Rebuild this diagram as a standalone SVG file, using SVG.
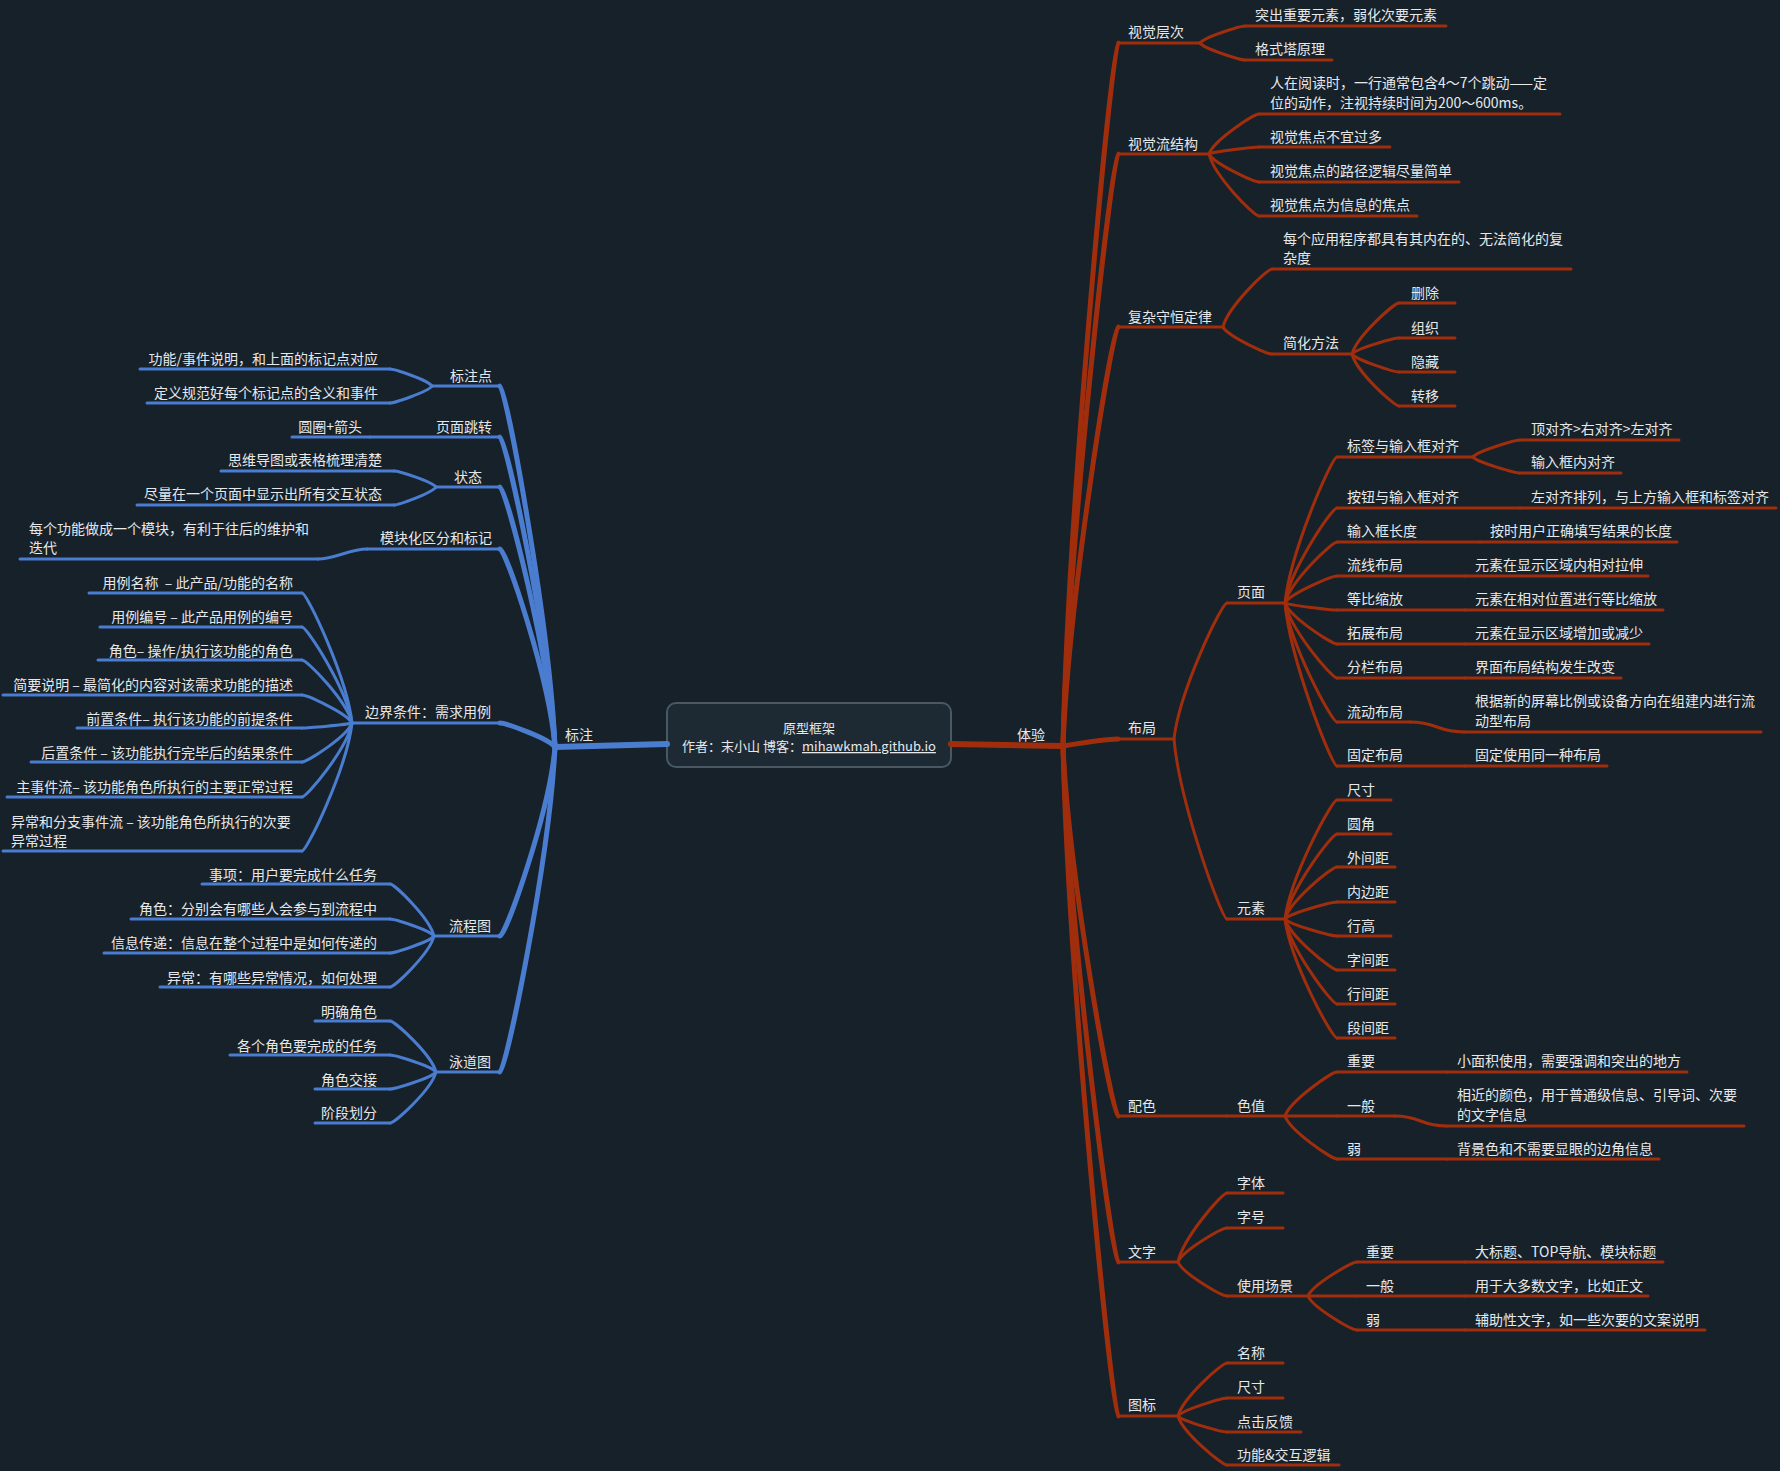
<svg xmlns="http://www.w3.org/2000/svg" width="1780" height="1471" viewBox="0 0 1780 1471">
<style>
.t{font-family:"Noto Sans CJK SC","Noto Sans",sans-serif;font-size:14px;fill:#e6e8ea}
.e{text-anchor:end}
.m{text-anchor:middle}
.b{stroke:#4a7ccf;fill:none;stroke-linecap:round}
.r{stroke:#a02e0d;fill:none;stroke-linecap:round}
.u{stroke-width:3}
.k{stroke-width:3}
.L{stroke-width:5}
.R{stroke-width:6}
</style>
<rect width="1780" height="1471" fill="#16212a"/>

<g id="connectors">
<!-- blue level 1 -->
<path class="b L" d="M555,747 C549.5,620.6 505.5,386 500,386"/>
<path class="b L" d="M555,747 C549.5,638.5 505.5,437 500,437"/>
<path class="b L" d="M555,747 C549.5,656 505.5,487 500,487"/>
<path class="b L" d="M555,747 C549.5,677.7 505.5,549 500,549"/>
<path class="b L" d="M555,747 C549.5,738.6 505.5,723 500,723"/>
<path class="b L" d="M555,747 C549.5,813.2 505.5,936 500,936"/>
<path class="b L" d="M555,747 C549.5,860.8 505.5,1072 500,1072"/>
<!-- blue level 2 -->
<path class="b k" d="M432,386 C427.8,380 394.2,369 390,369"/>
<path class="b k" d="M432,386 C427.8,392 394.2,403 390,403"/>
<path class="b k" d="M436,487 C431.8,481.4 398.2,471 394,471"/>
<path class="b k" d="M436,487 C431.8,493.3 398.2,505 394,505"/>
<path class="b k" d="M367,549 C350,549 335,559 318,559"/>
<path class="b k" d="M352,723 C347,677.5 307,593 302,593"/>
<path class="b k" d="M352,723 C347,689.4 307,627 302,627"/>
<path class="b k" d="M352,723 C347,701 307,660 302,660"/>
<path class="b k" d="M352,723 C347,713.2 307,695 302,695"/>
<path class="b k" d="M352,723 C347,724.8 307,728 302,728"/>
<path class="b k" d="M352,723 C347,736.7 307,762 302,762"/>
<path class="b k" d="M352,723 C347,748.9 307,797 302,797"/>
<path class="b k" d="M352,723 C347,767.8 307,851 302,851"/>
<path class="b k" d="M434,936 C429.6,917.8 394.4,884 390,884"/>
<path class="b k" d="M434,936 C429.6,930 394.4,919 390,919"/>
<path class="b k" d="M434,936 C429.6,942 394.4,953 390,953"/>
<path class="b k" d="M434,936 C429.6,953.9 394.4,987 390,987"/>
<path class="b k" d="M436,1072 C431.4,1054.2 394.6,1021 390,1021"/>
<path class="b k" d="M436,1072 C431.4,1066 394.6,1055 390,1055"/>
<path class="b k" d="M436,1072 C431.4,1078 394.6,1089 390,1089"/>
<path class="b k" d="M436,1072 C431.4,1089.9 394.6,1123 390,1123"/>
<!-- red level 1 -->
<path class="r L" d="M1063,746 C1068.5,500 1112.5,43 1118,43"/>
<path class="r L" d="M1063,746 C1068.5,538.8 1112.5,154 1118,154"/>
<path class="r L" d="M1063,746 C1068.5,599.4 1112.5,327 1118,327"/>
<path class="r L" d="M1063,746 C1075,744 1105,739 1118,739"/>
<path class="r L" d="M1063,746 C1068.5,875.5 1112.5,1116 1118,1116"/>
<path class="r L" d="M1063,746 C1068.5,926.6 1112.5,1262 1118,1262"/>
<path class="r L" d="M1063,746 C1068.5,980.5 1112.5,1416 1118,1416"/>
<!-- red level 2+ -->
<path class="r k" d="M1200,43 C1204.5,37 1240.5,26 1245,26"/>
<path class="r k" d="M1200,43 C1204.5,49 1240.5,60 1245,60"/>
<path class="r k" d="M1209,154 C1214,140 1254,114 1259,114"/>
<path class="r k" d="M1209,154 C1214,151.6 1254,147 1259,147"/>
<path class="r k" d="M1209,154 C1214,163.8 1254,182 1259,182"/>
<path class="r k" d="M1209,154 C1214,175.7 1254,216 1259,216"/>
<path class="r k" d="M1223,327 C1227.9,306.7 1267.1,269 1272,269"/>
<path class="r k" d="M1223,327 C1227.9,336.5 1267.1,354 1272,354"/>
<path class="r k" d="M1352,354 C1356.7,336.2 1394.3,303 1399,303"/>
<path class="r k" d="M1352,354 C1356.7,348.4 1394.3,338 1399,338"/>
<path class="r k" d="M1352,354 C1356.7,360.3 1394.3,372 1399,372"/>
<path class="r k" d="M1352,354 C1356.7,372.2 1394.3,406 1399,406"/>
<path class="r k" d="M1174,739 C1179.3,691.4 1221.7,603 1227,603"/>
<path class="r k" d="M1174,739 C1179.3,802 1221.7,919 1227,919"/>
<path class="r k" d="M1285,603 C1290.2,551.9 1331.8,457 1337,457"/>
<path class="r k" d="M1285,603 C1290.2,569.8 1331.8,508 1337,508"/>
<path class="r k" d="M1285,603 C1290.2,581.7 1331.8,542 1337,542"/>
<path class="r k" d="M1285,603 C1290.2,593.6 1331.8,576 1337,576"/>
<path class="r k" d="M1285,603 C1290.2,605.5 1331.8,610 1337,610"/>
<path class="r k" d="M1285,603 C1290.2,617.4 1331.8,644 1337,644"/>
<path class="r k" d="M1285,603 C1290.2,629.3 1331.8,678 1337,678"/>
<path class="r k" d="M1285,603 C1290.2,644.7 1331.8,722 1337,722"/>
<path class="r k" d="M1285,603 C1290.2,660.1 1331.8,766 1337,766"/>
<path class="r k" d="M1473,457 C1477.7,451 1515.3,440 1520,440"/>
<path class="r k" d="M1473,457 C1477.7,462.6 1515.3,473 1520,473"/>
<path class="r k" d="M1410,722 C1437,722 1437,732 1464,732"/>
<path class="r k" d="M1285,919 C1290.2,877.4 1331.8,800 1337,800"/>
<path class="r k" d="M1285,919 C1290.2,889.3 1331.8,834 1337,834"/>
<path class="r k" d="M1285,919 C1290.2,900.8 1331.8,867 1337,867"/>
<path class="r k" d="M1285,919 C1290.2,913 1331.8,902 1337,902"/>
<path class="r k" d="M1285,919 C1290.2,925 1331.8,936 1337,936"/>
<path class="r k" d="M1285,919 C1290.2,936.9 1331.8,970 1337,970"/>
<path class="r k" d="M1285,919 C1290.2,948.8 1331.8,1004 1337,1004"/>
<path class="r k" d="M1285,919 C1290.2,960.7 1331.8,1038 1337,1038"/>
<path class="r k" d="M1285,1116 C1290.2,1100.6 1331.8,1072 1337,1072"/>
<path class="r k" d="M1285,1116 L1337,1116"/>
<path class="r k" d="M1285,1116 C1290.2,1131 1331.8,1159 1337,1159"/>
<path class="r k" d="M1395,1116 C1420,1116 1421,1126 1446,1126"/>
<path class="r k" d="M1178,1262 C1182.9,1237.9 1222.1,1193 1227,1193"/>
<path class="r k" d="M1178,1262 C1182.9,1250.1 1222.1,1228 1227,1228"/>
<path class="r k" d="M1178,1262 C1182.9,1273.9 1222.1,1296 1227,1296"/>
<path class="r k" d="M1308,1296 C1312.9,1284.1 1352.1,1262 1357,1262"/>
<path class="r k" d="M1308,1296 L1357,1296"/>
<path class="r k" d="M1308,1296 C1312.9,1307.9 1352.1,1330 1357,1330"/>
<path class="r k" d="M1178,1416 C1182.9,1397.5 1222.1,1363 1227,1363"/>
<path class="r k" d="M1178,1416 C1182.9,1409.7 1222.1,1398 1227,1398"/>
<path class="r k" d="M1178,1416 C1182.9,1421.6 1222.1,1432 1227,1432"/>
<path class="r k" d="M1178,1416 C1182.9,1433.2 1222.1,1465 1227,1465"/>
</g>

<g id="root">
<rect x="667" y="703" width="284" height="64" rx="9" fill="#1e2a33" stroke="#4a5864" stroke-width="2"/>
<text class="t m" x="809" y="733" font-size="13" style="font-size:13px">原型框架</text>
<text class="t m" x="809" y="751" style="font-size:13px">作者：末小山 博客：<tspan text-decoration="underline">mihawkmah.github.io</tspan></text>
</g>

<!-- LEFT (blue) -->
<g id="n-biaozhu"><line class="b R" x1="555" y1="747" x2="667" y2="744"/><text class="t" x="565" y="740">标注</text></g>
<g id="n-biaozhudian"><line class="b u" x1="432" y1="386" x2="500" y2="386"/><text class="t e" x="492" y="381">标注点</text></g>
<g id="n-bzd-1"><line class="b u" x1="140" y1="369" x2="390" y2="369"/><text class="t e" x="378" y="364">功能/事件说明，和上面的标记点对应</text></g>
<g id="n-bzd-2"><line class="b u" x1="147" y1="403" x2="390" y2="403"/><text class="t e" x="378" y="398">定义规范好每个标记点的含义和事件</text></g>
<g id="n-yemiantiaozhuan"><line class="b u" x1="370" y1="437" x2="500" y2="437"/><text class="t e" x="492" y="432">页面跳转</text></g>
<g id="n-ymtz-1"><line class="b u" x1="292" y1="437" x2="370" y2="437"/><text class="t e" x="362" y="432">圆圈+箭头</text></g>
<g id="n-zhuangtai"><line class="b u" x1="436" y1="487" x2="500" y2="487"/><text class="t m" x="468" y="482">状态</text></g>
<g id="n-zt-1"><line class="b u" x1="221" y1="471" x2="394" y2="471"/><text class="t e" x="382" y="465">思维导图或表格梳理清楚</text></g>
<g id="n-zt-2"><line class="b u" x1="137" y1="505" x2="394" y2="505"/><text class="t e" x="382" y="499">尽量在一个页面中显示出所有交互状态</text></g>
<g id="n-mokuaihua"><line class="b u" x1="367" y1="549" x2="500" y2="549"/><text class="t e" x="492" y="543">模块化区分和标记</text></g>
<g id="n-mkh-1"><line class="b u" x1="20" y1="559" x2="318" y2="559"/><text class="t" x="29" y="534">每个功能做成一个模块，有利于往后的维护和</text><text class="t" x="29" y="553">迭代</text></g>
<g id="n-bianjie"><line class="b u" x1="352" y1="723" x2="500" y2="723"/><text class="t e" x="491" y="717">边界条件：需求用例</text></g>
<g id="n-bj-1"><line class="b u" x1="89" y1="593" x2="302" y2="593"/><text class="t e" x="293" y="588" xml:space="preserve">用例名称  – 此产品/功能的名称</text></g>
<g id="n-bj-2"><line class="b u" x1="100" y1="627" x2="302" y2="627"/><text class="t e" x="293" y="622">用例编号 – 此产品用例的编号</text></g>
<g id="n-bj-3"><line class="b u" x1="98" y1="660" x2="302" y2="660"/><text class="t e" x="293" y="656">角色– 操作/执行该功能的角色</text></g>
<g id="n-bj-4"><line class="b u" x1="3" y1="695" x2="302" y2="695"/><text class="t e" x="293" y="690">简要说明 – 最简化的内容对该需求功能的描述</text></g>
<g id="n-bj-5"><line class="b u" x1="77" y1="728" x2="302" y2="728"/><text class="t e" x="293" y="724">前置条件– 执行该功能的前提条件</text></g>
<g id="n-bj-6"><line class="b u" x1="31" y1="762" x2="302" y2="762"/><text class="t e" x="293" y="758">后置条件 – 该功能执行完毕后的结果条件</text></g>
<g id="n-bj-7"><line class="b u" x1="7" y1="797" x2="302" y2="797"/><text class="t e" x="293" y="792">主事件流– 该功能角色所执行的主要正常过程</text></g>
<g id="n-bj-8"><line class="b u" x1="3" y1="851" x2="302" y2="851"/><text class="t" x="11" y="827">异常和分支事件流 – 该功能角色所执行的次要</text><text class="t" x="11" y="846">异常过程</text></g>
<g id="n-liuchengtu"><line class="b u" x1="434" y1="936" x2="500" y2="936"/><text class="t e" x="491" y="931">流程图</text></g>
<g id="n-lct-1"><line class="b u" x1="202" y1="884" x2="390" y2="884"/><text class="t e" x="377" y="880">事项：用户要完成什么任务</text></g>
<g id="n-lct-2"><line class="b u" x1="131" y1="919" x2="390" y2="919"/><text class="t e" x="377" y="914">角色：分别会有哪些人会参与到流程中</text></g>
<g id="n-lct-3"><line class="b u" x1="104" y1="953" x2="390" y2="953"/><text class="t e" x="377" y="948">信息传递：信息在整个过程中是如何传递的</text></g>
<g id="n-lct-4"><line class="b u" x1="160" y1="987" x2="390" y2="987"/><text class="t e" x="377" y="983">异常：有哪些异常情况，如何处理</text></g>
<g id="n-yongdaotu"><line class="b u" x1="436" y1="1072" x2="500" y2="1072"/><text class="t e" x="491" y="1067">泳道图</text></g>
<g id="n-ydt-1"><line class="b u" x1="315" y1="1021" x2="390" y2="1021"/><text class="t e" x="377" y="1017">明确角色</text></g>
<g id="n-ydt-2"><line class="b u" x1="230" y1="1055" x2="390" y2="1055"/><text class="t e" x="377" y="1051">各个角色要完成的任务</text></g>
<g id="n-ydt-3"><line class="b u" x1="315" y1="1089" x2="390" y2="1089"/><text class="t e" x="377" y="1085">角色交接</text></g>
<g id="n-ydt-4"><line class="b u" x1="315" y1="1123" x2="390" y2="1123"/><text class="t e" x="377" y="1118">阶段划分</text></g>

<!-- RIGHT (red) -->
<g id="n-tiyan"><line class="r R" x1="951" y1="744" x2="1063" y2="746"/><text class="t" x="1017" y="740">体验</text></g>
<g id="n-sjcc"><line class="r u" x1="1118" y1="43" x2="1200" y2="43"/><text class="t" x="1128" y="37">视觉层次</text></g>
<g id="n-sjcc-1"><line class="r u" x1="1245" y1="26" x2="1446" y2="26"/><text class="t" x="1255" y="20">突出重要元素，弱化次要元素</text></g>
<g id="n-sjcc-2"><line class="r u" x1="1245" y1="60" x2="1332" y2="60"/><text class="t" x="1255" y="54">格式塔原理</text></g>
<g id="n-sjljg"><line class="r u" x1="1118" y1="154" x2="1209" y2="154"/><text class="t" x="1128" y="149">视觉流结构</text></g>
<g id="n-sjljg-1"><line class="r u" x1="1259" y1="114" x2="1560" y2="114"/><text class="t" x="1270" y="88">人在阅读时，一行通常包含4～7个跳动——定</text><text class="t" x="1270" y="108">位的动作，注视持续时间为200～600ms。</text></g>
<g id="n-sjljg-2"><line class="r u" x1="1259" y1="147" x2="1390" y2="147"/><text class="t" x="1270" y="142">视觉焦点不宜过多</text></g>
<g id="n-sjljg-3"><line class="r u" x1="1259" y1="182" x2="1459" y2="182"/><text class="t" x="1270" y="176">视觉焦点的路径逻辑尽量简单</text></g>
<g id="n-sjljg-4"><line class="r u" x1="1259" y1="216" x2="1417" y2="216"/><text class="t" x="1270" y="210">视觉焦点为信息的焦点</text></g>
<g id="n-fzshdl"><line class="r u" x1="1118" y1="327" x2="1223" y2="327"/><text class="t" x="1128" y="322">复杂守恒定律</text></g>
<g id="n-fzshdl-1"><line class="r u" x1="1272" y1="269" x2="1571" y2="269"/><text class="t" x="1283" y="244">每个应用程序都具有其内在的、无法简化的复</text><text class="t" x="1283" y="263">杂度</text></g>
<g id="n-jhff"><line class="r u" x1="1272" y1="354" x2="1352" y2="354"/><text class="t" x="1283" y="348">简化方法</text></g>
<g id="n-jhff-1"><line class="r u" x1="1399" y1="303" x2="1455" y2="303"/><text class="t" x="1411" y="298">删除</text></g>
<g id="n-jhff-2"><line class="r u" x1="1399" y1="338" x2="1455" y2="338"/><text class="t" x="1411" y="333">组织</text></g>
<g id="n-jhff-3"><line class="r u" x1="1399" y1="372" x2="1455" y2="372"/><text class="t" x="1411" y="367">隐藏</text></g>
<g id="n-jhff-4"><line class="r u" x1="1399" y1="406" x2="1455" y2="406"/><text class="t" x="1411" y="401">转移</text></g>
<g id="n-buju"><line class="r u" x1="1118" y1="739" x2="1174" y2="739"/><text class="t" x="1128" y="733">布局</text></g>
<g id="n-yemian"><line class="r u" x1="1227" y1="603" x2="1285" y2="603"/><text class="t" x="1237" y="597">页面</text></g>
<g id="n-ym-1"><line class="r u" x1="1337" y1="457" x2="1473" y2="457"/><text class="t" x="1347" y="451">标签与输入框对齐</text></g>
<g id="n-ym-1a"><line class="r u" x1="1520" y1="440" x2="1679" y2="440"/><text class="t" x="1531" y="434">顶对齐&gt;右对齐&gt;左对齐</text></g>
<g id="n-ym-1b"><line class="r u" x1="1520" y1="473" x2="1621" y2="473"/><text class="t" x="1531" y="467">输入框内对齐</text></g>
<g id="n-ym-2"><line class="r u" x1="1337" y1="508" x2="1520" y2="508"/><text class="t" x="1347" y="502">按钮与输入框对齐</text></g>
<g id="n-ym-2a"><line class="r u" x1="1520" y1="508" x2="1776" y2="508"/><text class="t" x="1531" y="502">左对齐排列，与上方输入框和标签对齐</text></g>
<g id="n-ym-3"><line class="r u" x1="1337" y1="542" x2="1480" y2="542"/><text class="t" x="1347" y="536">输入框长度</text></g>
<g id="n-ym-3a"><line class="r u" x1="1480" y1="542" x2="1677" y2="542"/><text class="t" x="1490" y="536">按时用户正确填写结果的长度</text></g>
<g id="n-ym-4"><line class="r u" x1="1337" y1="576" x2="1465" y2="576"/><text class="t" x="1347" y="570">流线布局</text></g>
<g id="n-ym-4a"><line class="r u" x1="1465" y1="576" x2="1648" y2="576"/><text class="t" x="1475" y="570">元素在显示区域内相对拉伸</text></g>
<g id="n-ym-5"><line class="r u" x1="1337" y1="610" x2="1465" y2="610"/><text class="t" x="1347" y="604">等比缩放</text></g>
<g id="n-ym-5a"><line class="r u" x1="1465" y1="610" x2="1663" y2="610"/><text class="t" x="1475" y="604">元素在相对位置进行等比缩放</text></g>
<g id="n-ym-6"><line class="r u" x1="1337" y1="644" x2="1465" y2="644"/><text class="t" x="1347" y="638">拓展布局</text></g>
<g id="n-ym-6a"><line class="r u" x1="1465" y1="644" x2="1649" y2="644"/><text class="t" x="1475" y="638">元素在显示区域增加或减少</text></g>
<g id="n-ym-7"><line class="r u" x1="1337" y1="678" x2="1465" y2="678"/><text class="t" x="1347" y="672">分栏布局</text></g>
<g id="n-ym-7a"><line class="r u" x1="1465" y1="678" x2="1621" y2="678"/><text class="t" x="1475" y="672">界面布局结构发生改变</text></g>
<g id="n-ym-8"><line class="r u" x1="1337" y1="722" x2="1410" y2="722"/><text class="t" x="1347" y="717">流动布局</text></g>
<g id="n-ym-8a"><line class="r u" x1="1464" y1="732" x2="1761" y2="732"/><text class="t" x="1475" y="706">根据新的屏幕比例或设备方向在组建内进行流</text><text class="t" x="1475" y="726">动型布局</text></g>
<g id="n-ym-9"><line class="r u" x1="1337" y1="766" x2="1465" y2="766"/><text class="t" x="1347" y="760">固定布局</text></g>
<g id="n-ym-9a"><line class="r u" x1="1465" y1="766" x2="1607" y2="766"/><text class="t" x="1475" y="760">固定使用同一种布局</text></g>
<g id="n-yuansu"><line class="r u" x1="1227" y1="919" x2="1285" y2="919"/><text class="t" x="1237" y="913">元素</text></g>
<g id="n-ys-1"><line class="r u" x1="1337" y1="800" x2="1391" y2="800"/><text class="t" x="1347" y="795">尺寸</text></g>
<g id="n-ys-2"><line class="r u" x1="1337" y1="834" x2="1391" y2="834"/><text class="t" x="1347" y="829">圆角</text></g>
<g id="n-ys-3"><line class="r u" x1="1337" y1="867" x2="1395" y2="867"/><text class="t" x="1347" y="863">外间距</text></g>
<g id="n-ys-4"><line class="r u" x1="1337" y1="902" x2="1395" y2="902"/><text class="t" x="1347" y="897">内边距</text></g>
<g id="n-ys-5"><line class="r u" x1="1337" y1="936" x2="1391" y2="936"/><text class="t" x="1347" y="931">行高</text></g>
<g id="n-ys-6"><line class="r u" x1="1337" y1="970" x2="1395" y2="970"/><text class="t" x="1347" y="965">字间距</text></g>
<g id="n-ys-7"><line class="r u" x1="1337" y1="1004" x2="1395" y2="1004"/><text class="t" x="1347" y="999">行间距</text></g>
<g id="n-ys-8"><line class="r u" x1="1337" y1="1038" x2="1395" y2="1038"/><text class="t" x="1347" y="1033">段间距</text></g>
<g id="n-peise"><line class="r u" x1="1118" y1="1116" x2="1227" y2="1116"/><text class="t" x="1128" y="1111">配色</text></g>
<g id="n-sezhi"><line class="r u" x1="1227" y1="1116" x2="1285" y2="1116"/><text class="t" x="1237" y="1111">色值</text></g>
<g id="n-sz-1"><line class="r u" x1="1337" y1="1072" x2="1447" y2="1072"/><text class="t" x="1347" y="1066">重要</text></g>
<g id="n-sz-1a"><line class="r u" x1="1447" y1="1072" x2="1687" y2="1072"/><text class="t" x="1457" y="1066">小面积使用，需要强调和突出的地方</text></g>
<g id="n-sz-2"><line class="r u" x1="1337" y1="1116" x2="1395" y2="1116"/><text class="t" x="1347" y="1111">一般</text></g>
<g id="n-sz-2a"><line class="r u" x1="1446" y1="1126" x2="1744" y2="1126"/><text class="t" x="1457" y="1100">相近的颜色，用于普通级信息、引导词、次要</text><text class="t" x="1457" y="1120">的文字信息</text></g>
<g id="n-sz-3"><line class="r u" x1="1337" y1="1159" x2="1447" y2="1159"/><text class="t" x="1347" y="1154">弱</text></g>
<g id="n-sz-3a"><line class="r u" x1="1447" y1="1159" x2="1659" y2="1159"/><text class="t" x="1457" y="1154">背景色和不需要显眼的边角信息</text></g>
<g id="n-wenzi"><line class="r u" x1="1118" y1="1262" x2="1178" y2="1262"/><text class="t" x="1128" y="1257">文字</text></g>
<g id="n-wz-1"><line class="r u" x1="1227" y1="1193" x2="1283" y2="1193"/><text class="t" x="1237" y="1188">字体</text></g>
<g id="n-wz-2"><line class="r u" x1="1227" y1="1228" x2="1283" y2="1228"/><text class="t" x="1237" y="1222">字号</text></g>
<g id="n-wz-3"><line class="r u" x1="1227" y1="1296" x2="1308" y2="1296"/><text class="t" x="1237" y="1291">使用场景</text></g>
<g id="n-sycj-1"><line class="r u" x1="1357" y1="1262" x2="1465" y2="1262"/><text class="t" x="1366" y="1257">重要</text></g>
<g id="n-sycj-1a"><line class="r u" x1="1465" y1="1262" x2="1663" y2="1262"/><text class="t" x="1475" y="1257">大标题、TOP导航、模块标题</text></g>
<g id="n-sycj-2"><line class="r u" x1="1357" y1="1296" x2="1465" y2="1296"/><text class="t" x="1366" y="1291">一般</text></g>
<g id="n-sycj-2a"><line class="r u" x1="1465" y1="1296" x2="1648" y2="1296"/><text class="t" x="1475" y="1291">用于大多数文字，比如正文</text></g>
<g id="n-sycj-3"><line class="r u" x1="1357" y1="1330" x2="1465" y2="1330"/><text class="t" x="1366" y="1325">弱</text></g>
<g id="n-sycj-3a"><line class="r u" x1="1465" y1="1330" x2="1705" y2="1330"/><text class="t" x="1475" y="1325">辅助性文字，如一些次要的文案说明</text></g>
<g id="n-tubiao"><line class="r u" x1="1118" y1="1416" x2="1178" y2="1416"/><text class="t" x="1128" y="1410">图标</text></g>
<g id="n-tb-1"><line class="r u" x1="1227" y1="1363" x2="1283" y2="1363"/><text class="t" x="1237" y="1358">名称</text></g>
<g id="n-tb-2"><line class="r u" x1="1227" y1="1398" x2="1283" y2="1398"/><text class="t" x="1237" y="1392">尺寸</text></g>
<g id="n-tb-3"><line class="r u" x1="1227" y1="1432" x2="1301" y2="1432"/><text class="t" x="1237" y="1427">点击反馈</text></g>
<g id="n-tb-4"><line class="r u" x1="1227" y1="1465" x2="1339" y2="1465"/><text class="t" x="1237" y="1460">功能&amp;交互逻辑</text></g>
</svg>
